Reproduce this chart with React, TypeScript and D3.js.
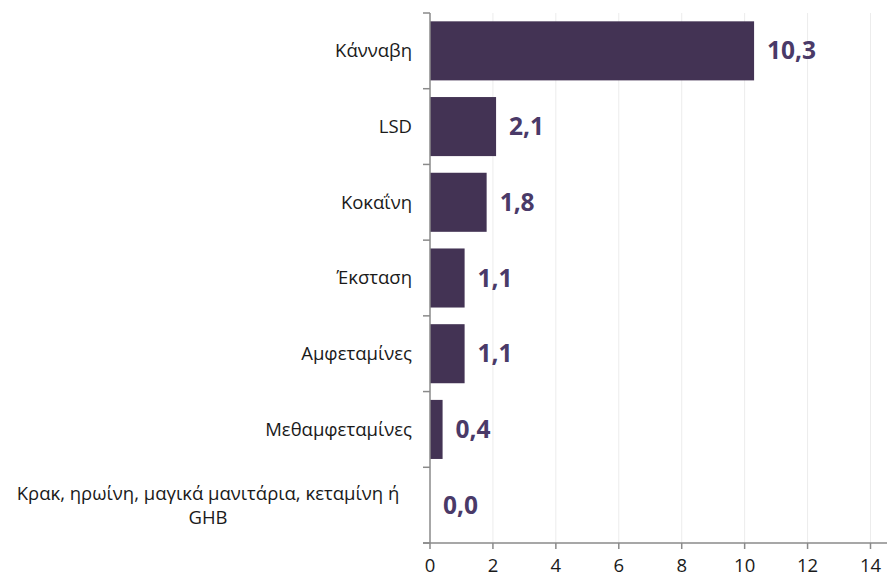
import React, { useRef, useEffect } from "react";
import * as d3 from "d3";

const categories = [
  "Κάνναβη",
  "LSD",
  "Κοκαΐνη",
  "Έκσταση",
  "Αμφεταμίνες",
  "Μεθαμφεταμίνες",
  "Κρακ, ηρωίνη, μαγικά μανιτάρια, κεταμίνη ή|GHB",
];
const values = [10.3, 2.1, 1.8, 1.1, 1.1, 0.4, 0.0];
const xTicks = [0, 2, 4, 6, 8, 10, 12, 14];

const W = 888;
const H = 578;
const FONT = "Open Sans, Liberation Sans, sans-serif";

function App() {
  const svgRef = useRef<SVGSVGElement>(null);

  useEffect(() => {
    const svg = d3.select(svgRef.current);
    svg.selectAll("*").remove();

    const x0 = 430;
    const top = 13;
    const bottom = 543;
    const x = d3.scaleLinear().domain([0, 14]).range([x0, 870.5]);
    const y = d3
      .scaleBand<number>()
      .domain(categories.map((_, i) => i))
      .range([top, bottom])
      .paddingInner(0.22)
      .paddingOuter(0.11);

    // light gridlines
    svg
      .selectAll(".grid")
      .data(xTicks.slice(1))
      .join("line")
      .attr("x1", (d) => x(d))
      .attr("x2", (d) => x(d))
      .attr("y1", top)
      .attr("y2", bottom)
      .attr("stroke", "#ececec")
      .attr("stroke-width", 1);

    // bars
    svg
      .selectAll(".bar")
      .data(values)
      .join("rect")
      .attr("x", x0)
      .attr("y", (_, i) => y(i)!)
      .attr("width", (d) => x(d) - x0)
      .attr("height", y.bandwidth())
      .attr("fill", "#433354");

    // value labels
    svg
      .selectAll(".val")
      .data(values)
      .join("text")
      .attr("x", (d) => x(d) + 13)
      .attr("y", (_, i) => y(i)! + y.bandwidth() / 2)
      .attr("dy", "0.35em")
      .attr("font-family", FONT)
      .attr("font-weight", "bold")
      .attr("font-size", 24.5)
      .attr("fill", "#4a3a68")
      .text((d) => d.toFixed(1).replace(".", ","));

    // category labels
    categories.forEach((c, i) => {
      const cy = y(i)! + y.bandwidth() / 2;
      const lines = c.split("|");
      if (lines.length === 1) {
        svg
          .append("text")
          .attr("x", 412)
          .attr("y", cy)
          .attr("dy", "0.35em")
          .attr("text-anchor", "end")
          .attr("font-family", FONT)
          .attr("font-size", 18.5)
          .attr("fill", "#1a1a1a")
          .text(c);
      } else {
        lines.forEach((l, j) => {
          svg
            .append("text")
            .attr("x", 208)
            .attr("y", cy + (j - (lines.length - 1) / 2) * 24)
            .attr("dy", "0.35em")
            .attr("text-anchor", "middle")
            .attr("font-family", FONT)
            .attr("font-size", 18.5)
            .attr("fill", "#1a1a1a")
            .text(l);
        });
      }
    });

    const axisColor = "#8a8a8a";
    // y axis line and ticks at band boundaries
    svg
      .append("line")
      .attr("x1", x0)
      .attr("x2", x0)
      .attr("y1", top)
      .attr("y2", bottom)
      .attr("stroke", axisColor)
      .attr("stroke-width", 1.5);
    const step = y.step();
    svg
      .selectAll(".ytick")
      .data(d3.range(categories.length + 1))
      .join("line")
      .attr("x1", x0 - 7)
      .attr("x2", x0)
      .attr("y1", (i) => top + i * step)
      .attr("y2", (i) => top + i * step)
      .attr("stroke", axisColor)
      .attr("stroke-width", 1.5);

    // x axis
    svg
      .append("line")
      .attr("x1", x0 - 7)
      .attr("x2", 887)
      .attr("y1", bottom)
      .attr("y2", bottom)
      .attr("stroke", axisColor)
      .attr("stroke-width", 1.5);
    svg
      .selectAll(".xtick")
      .data(xTicks)
      .join("line")
      .attr("x1", (d) => x(d))
      .attr("x2", (d) => x(d))
      .attr("y1", bottom)
      .attr("y2", bottom + 6)
      .attr("stroke", axisColor)
      .attr("stroke-width", 1.5);
    svg
      .selectAll(".xlabel")
      .data(xTicks)
      .join("text")
      .attr("x", (d) => x(d))
      .attr("y", 566)
      .attr("dy", "0.35em")
      .attr("text-anchor", "middle")
      .attr("font-family", FONT)
      .attr("font-size", 18.5)
      .attr("fill", "#1a1a1a")
      .text((d) => d);
  }, []);

  return (
    <svg
      ref={svgRef}
      width={W}
      height={H}
      style={{ position: "absolute", left: 0, top: 0, background: "#fff" }}
    ></svg>
  );
}

export default App;
